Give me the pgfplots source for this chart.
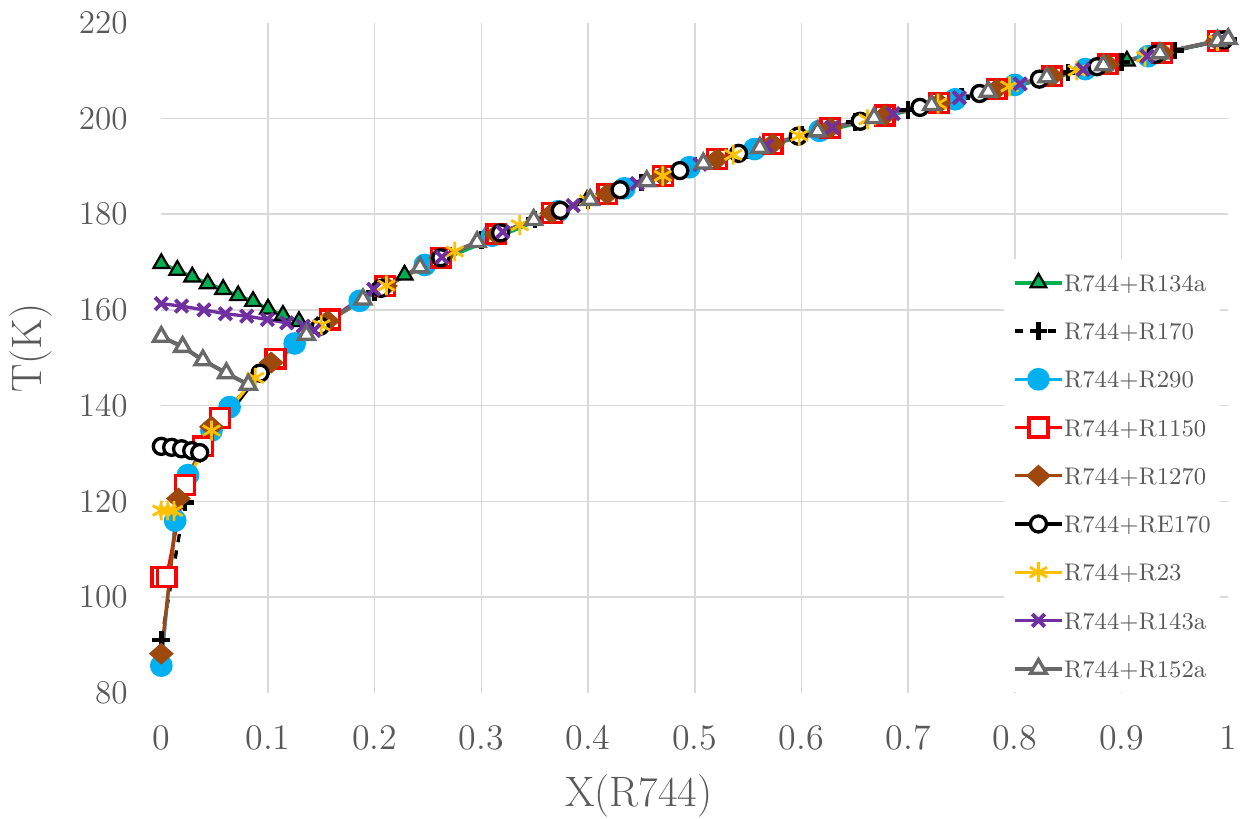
\documentclass[border=0pt]{standalone}
\usepackage{pgfplots}
\pgfplotsset{compat=1.18}
\definecolor{txt}{HTML}{595959}
\definecolor{gridc}{HTML}{D9D9D9}
\definecolor{cgreen}{HTML}{00B050}
\definecolor{cblue}{HTML}{00B0F0}
\definecolor{cred}{HTML}{FF0000}
\definecolor{cbrown}{HTML}{9E480E}
\definecolor{corange}{HTML}{FFC000}
\definecolor{cpurple}{HTML}{7030A0}
\definecolor{cgray}{HTML}{696969}
\begin{document}
\begin{tikzpicture}
\begin{axis}[
  at={(0,0)}, anchor=south west,
  scale only axis, width=386pt, height=242.5pt,
  xmin=0, xmax=1, ymin=80, ymax=220,
  xtick={0,0.1,0.2,0.3,0.4,0.5,0.6,0.7,0.8,0.9,1},
  xticklabels={0,0.1,0.2,0.3,0.4,0.5,0.6,0.7,0.8,0.9,1},
  ytick={80,100,120,140,160,180,200,220},
  minor xtick={0.1,0.2,0.3,0.4,0.5,0.6,0.7,0.8,0.9},
  minor ytick={100,120,140,160,180,200},
  xminorgrids=true, yminorgrids=true,
  minor grid style={draw=gridc, line width=0.55pt},
  axis line style={draw=none},
  major tick length=0pt, minor tick length=0pt,
  tick label style={font=\fontsize{13}{15.6}\selectfont, text=txt, inner sep=1pt},
  yticklabel style={anchor=east, xshift=-11pt},
  xticklabel style={anchor=north, yshift=-10.57pt},
  xlabel={X(R744)}, ylabel={T(K)},
  label style={font=\fontsize{15.4}{18}\selectfont, text=txt, inner sep=0pt},
  xlabel style={at={(axis description cs:0.4477,-0.1701)}, anchor=base},
  ylabel style={at={(axis description cs:-0.1119,0.514)}, anchor=base},
  legend style={at={(axis description cs:0.789,0.648)}, anchor=north west,
    fill=white, draw=none, inner xsep=3.3pt, inner ysep=0pt, row sep=0.35pt,
    font=\fontsize{8.7}{10.5}\selectfont\color{txt},
    nodes={inner sep=0pt, text height=11.7pt, text depth=5.4pt}},
  legend cell align=left,
]
% R744+R134a
\addplot[cgreen, line width=1.3pt, mark=triangle*, mark size=3.3pt,
  mark options={fill=cgreen, draw=black, line width=0.8pt}] coordinates {
(0,169.7) (0.015,168.3) (0.029,166.9) (0.0435,165.5) (0.058,164.3) (0.072,163.0)
(0.086,161.8) (0.100,160.2) (0.114,158.9) (0.129,157.6) (0.146,156.4) (0.228,167.3)
(0.399,182.9) (0.57,194.5) (0.74,203.8) (0.905,212.0) (1.0,216.6)};
\addlegendentry{R744+R134a}
% R744+R170
\addplot[black, dashed, line width=1.2pt, mark=+, mark size=3.2pt,
  mark options={solid, line width=1.6pt}] coordinates {
(0,91.0) (0.022,119.8) (0.046,134.6) (0.1,148.3) (0.15,156.8) (0.2,163.8) (0.25,169.6)
(0.3,174.6) (0.35,178.9) (0.4,182.9) (0.45,186.6) (0.5,190.1) (0.55,193.3) (0.6,196.5)
(0.65,199.2) (0.7,201.8) (0.75,204.4) (0.8,207.0) (0.85,209.6) (0.9,211.8) (0.95,214.2) (1.0,216.6)};
\addlegendentry{R744+R170}
% R744+R290
\addplot[cblue, line width=1.2pt, mark=*, mark size=3.5pt,
  mark options={fill=cblue, draw=cblue}] coordinates {
(0,85.7) (0.013,116.0) (0.025,125.5) (0.047,134.8) (0.064,139.7) (0.125,153.0)
(0.186,161.9) (0.247,169.4) (0.31,175.5) (0.372,180.6) (0.434,185.4) (0.495,189.8)
(0.556,193.6) (0.617,197.4) (0.68,200.7) (0.744,204.0) (0.80,207.0) (0.866,210.3)
(0.925,213.0) (0.99,216.2)};
\addlegendentry{R744+R290}
% R744+R1150
\addplot[cred, line width=1.2pt, mark=square*, mark size=3.4pt,
  mark options={fill=white, draw=cred, line width=1.2pt}] coordinates {
(0,104.2) (0.005,104.2) (0.022,123.4) (0.039,131.5) (0.055,137.4) (0.107,149.8)
(0.158,158.0) (0.21,165.0) (0.262,170.9) (0.314,175.8) (0.366,180.2) (0.418,184.2)
(0.47,188.0) (0.521,191.5) (0.573,194.7) (0.627,198.0) (0.678,200.6) (0.729,203.2)
(0.783,206.1) (0.835,208.8) (0.887,211.3) (0.938,213.7) (0.99,216.2)};
\addlegendentry{R744+R1150}
% R744+R1270
\addplot[cbrown, line width=1.2pt, mark=diamond*, mark size=3.2pt,
  mark options={fill=cbrown, draw=cbrown, xscale=1.5}] coordinates {
(0,88.2) (0.016,120.6) (0.047,135.6) (0.103,149.0) (0.156,157.7) (0.21,165.0)
(0.262,170.9) (0.314,175.8) (0.366,180.2) (0.418,184.2) (0.47,188.0) (0.521,191.5)
(0.573,194.7) (0.627,198.0) (0.678,200.6) (0.729,203.2) (0.783,206.1) (0.835,208.8)
(0.887,211.3) (0.938,213.7) (0.99,216.2)};
\addlegendentry{R744+R1270}
% R744+RE170
\addplot[black, line width=1.2pt, mark=*, mark size=2.9pt,
  mark options={fill=white, draw=black, line width=1.2pt}] coordinates {
(0,131.5) (0.0097,131.3) (0.019,131.0) (0.0285,130.6) (0.036,130.2) (0.0925,146.8)
(0.149,156.6) (0.206,164.5) (0.262,170.9) (0.318,176.1) (0.374,180.8) (0.43,185.1)
(0.486,189.1) (0.541,192.7) (0.597,196.3) (0.655,199.4) (0.711,202.3) (0.767,205.2)
(0.823,208.2) (0.877,210.8) (0.932,213.4) (0.996,216.4)};
\addlegendentry{R744+RE170}
% R744+R23
\addplot[corange, line width=1.2pt, mark=asterisk, mark size=3.6pt,
  mark options={line width=1pt}] coordinates {
(0,118.1) (0.006,118.1) (0.012,118.0) (0.047,134.8) (0.088,145.8) (0.15,156.8)
(0.211,165.1) (0.275,172.2) (0.336,177.7) (0.40,182.9) (0.47,188.0) (0.536,192.4)
(0.598,196.4) (0.662,199.8) (0.728,203.1) (0.795,206.7) (0.858,210.0) (0.922,212.9) (0.99,216.2)};
\addlegendentry{R744+R23}
% R744+R143a
\addplot[cpurple, line width=1.2pt, mark=x, mark size=3.2pt,
  mark options={line width=1.4pt}] coordinates {
(0,161.3) (0.019,160.8) (0.040,160.0) (0.060,159.2) (0.080,158.7) (0.0994,158.0)
(0.1175,157.3) (0.133,156.6) (0.143,155.7) (0.199,164.3) (0.263,171.0) (0.32,176.3)
(0.386,181.8) (0.446,186.4) (0.505,190.4) (0.567,194.3) (0.629,198.1) (0.686,201.0)
(0.748,204.3) (0.805,207.2) (0.864,210.2) (0.924,213.0) (0.992,216.3)};
\addlegendentry{R744+R143a}
% R744+R152a
\addplot[cgray, line width=1.5pt, mark=triangle*, mark size=3.3pt,
  mark options={fill=white, draw=cgray, line width=1.2pt}] coordinates {
(0,154.4) (0.020,152.3) (0.039,149.5) (0.061,146.8) (0.0815,144.4) (0.136,154.8)
(0.189,162.2) (0.2425,168.9) (0.296,174.2) (0.349,178.8) (0.402,183.0) (0.455,186.9)
(0.508,190.6) (0.561,193.9) (0.615,197.3) (0.668,200.1) (0.722,202.8) (0.775,205.6)
(0.83,208.6) (0.883,211.1) (0.936,213.6) (0.99,216.2) (1.0,216.6)};
\addlegendentry{R744+R152a}
\end{axis}
\path (-58.36pt,-45.6pt) rectangle (391.7pt,250.7pt);
\end{tikzpicture}
\end{document}
